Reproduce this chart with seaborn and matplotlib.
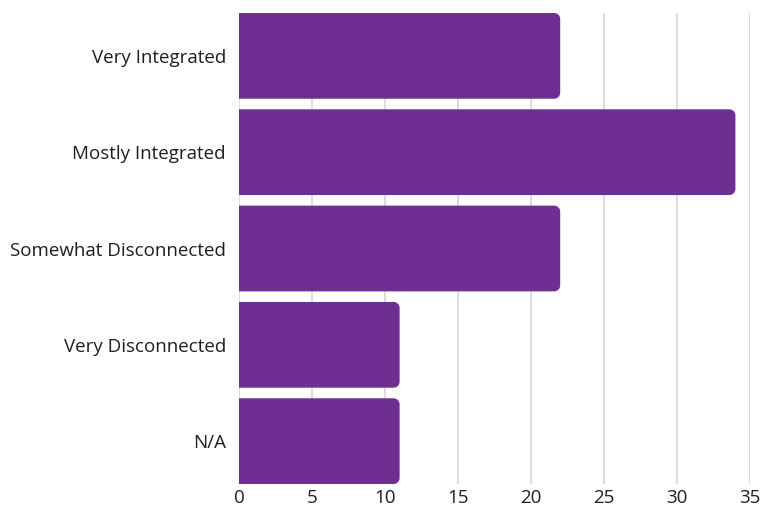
import matplotlib
matplotlib.use("Agg")
import matplotlib.pyplot as plt
from matplotlib.path import Path
from matplotlib.patches import PathPatch
import seaborn as sns
import pandas as pd

# Survey responses: how integrated respondents feel
categories = ["Very Integrated", "Mostly Integrated", "Somewhat Disconnected",
              "Very Disconnected", "N/A"]
counts = [22, 34, 22, 11, 11]
x_ticks = [0, 5, 10, 15, 20, 25, 30, 35]

BAR_COLOR = "#6F2E91"
GRID_COLOR = "#D9D9D9"
TEXT_COLOR = "#1E1E1E"
BAR_WIDTH = 0.89

sns.set_theme(style="white")
plt.rcParams["font.family"] = ["Open Sans", "DejaVu Sans"]

df = pd.DataFrame({"category": categories, "count": counts})

fig = plt.figure(figsize=(7.6, 5.11), dpi=100)
ax = fig.add_axes([239 / 760, 1 - 484 / 511, (750 - 239) / 760, (484 - 13) / 511])

sns.barplot(data=df, x="count", y="category", orient="h", color=BAR_COLOR,
            saturation=1, width=BAR_WIDTH, ax=ax, zorder=3)

ax.set_xlim(0, 35)
ax.set_ylim(len(categories) - 1 + BAR_WIDTH / 2, -BAR_WIDTH / 2)
ax.set_xticks(x_ticks)
ax.set_xlabel("")
ax.set_ylabel("")
ax.xaxis.grid(True, color=GRID_COLOR, linewidth=1.3, zorder=0)
ax.yaxis.grid(False)
for s in ax.spines.values():
    s.set_visible(False)
ax.tick_params(axis="both", length=0, labelsize=13.5, labelcolor=TEXT_COLOR)
ax.tick_params(axis="y", pad=9.5)
ax.tick_params(axis="x", pad=3.5)

# Replace the plain rectangles with bars rounded on their right end
fig.canvas.draw()
x_px = ax.transData.transform([(1, 0)])[0][0] - ax.transData.transform([(0, 0)])[0][0]
y_px = abs(ax.transData.transform([(0, 1)])[0][1] - ax.transData.transform([(0, 0)])[0][1])
radius = 6.0
k = 0.4477
for patch in list(ax.patches):
    x0, y0 = patch.get_x(), patch.get_y()
    w, h = patch.get_width(), patch.get_height()
    x1, y1 = x0 + w, y0 + h
    rx, ry = radius / x_px, radius / y_px
    verts = [
        (x0, y0),
        (x1 - rx, y0),
        (x1 - rx * k, y0), (x1, y0 + ry * k), (x1, y0 + ry),
        (x1, y1 - ry),
        (x1, y1 - ry * k), (x1 - rx * k, y1), (x1 - rx, y1),
        (x0, y1),
        (x0, y0),
    ]
    codes = [Path.MOVETO, Path.LINETO,
             Path.CURVE4, Path.CURVE4, Path.CURVE4,
             Path.LINETO,
             Path.CURVE4, Path.CURVE4, Path.CURVE4,
             Path.LINETO, Path.CLOSEPOLY]
    rounded = PathPatch(Path(verts, codes), facecolor=BAR_COLOR,
                        edgecolor="none", zorder=3)
    patch.remove()
    ax.add_patch(rounded)

fig.savefig("out.png", dpi=100)
